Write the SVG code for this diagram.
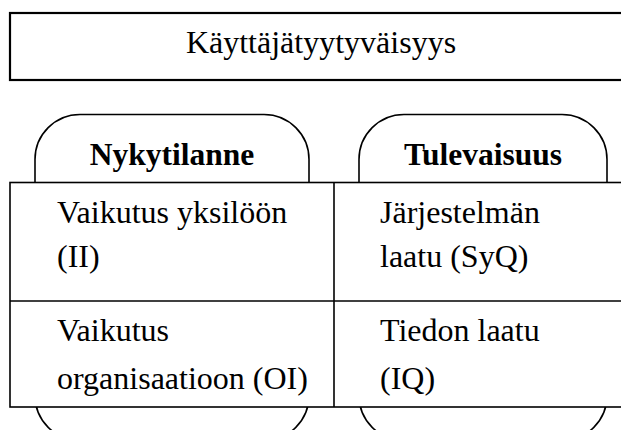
<svg xmlns="http://www.w3.org/2000/svg" width="621" height="430" viewBox="0 0 621 430">
<style>
.t{font-family:"Liberation Serif","Times New Roman",serif;fill:#000;}
.r{font-size:32px;}
.b{font-size:31.5px;font-weight:bold;}
.ln{stroke:#000;stroke-width:1.6;fill:#fff;}
</style>
<rect x="0" y="0" width="621" height="430" fill="#fff"/>
<g id="title">
<rect x="10" y="13" width="640" height="67" fill="#fff" stroke="#000" stroke-width="2.2"/>
<text class="t r" x="321" y="53" text-anchor="middle">Käyttäjätyytyväisyys</text>
</g>
<g id="tab-nykytilanne">
<rect class="ln" x="35" y="114.5" width="274" height="326" rx="45" ry="45"/>
</g>
<g id="tab-tulevaisuus">
<rect class="ln" x="359" y="114.5" width="248" height="326" rx="45" ry="45"/>
</g>
<g id="table">
<rect class="ln" x="10" y="182.5" width="640" height="224.5"/>
<line x1="334" y1="182.5" x2="334" y2="407" stroke="#000" stroke-width="1.6"/>
<line x1="10" y1="301" x2="650" y2="301" stroke="#000" stroke-width="1.6"/>
</g>
<g id="header-nykytilanne">
<text class="t b" x="172" y="165" text-anchor="middle">Nykytilanne</text>
</g>
<g id="header-tulevaisuus">
<text class="t b" x="483" y="165" text-anchor="middle">Tulevaisuus</text>
</g>
<g id="cell-ii">
<text class="t r" x="57" y="223">Vaikutus yksilöön</text>
<text class="t r" x="57" y="267">(II)</text>
</g>
<g id="cell-syq">
<text class="t r" x="380" y="223">Järjestelmän</text>
<text class="t r" x="380" y="267">laatu (SyQ)</text>
</g>
<g id="cell-oi">
<text class="t r" x="57" y="341">Vaikutus</text>
<text class="t r" x="57" y="389">organisaatioon (OI)</text>
</g>
<g id="cell-iq">
<text class="t r" x="380" y="341">Tiedon laatu</text>
<text class="t r" x="380" y="389">(IQ)</text>
</g>
<g id="connectors"></g>
</svg>
